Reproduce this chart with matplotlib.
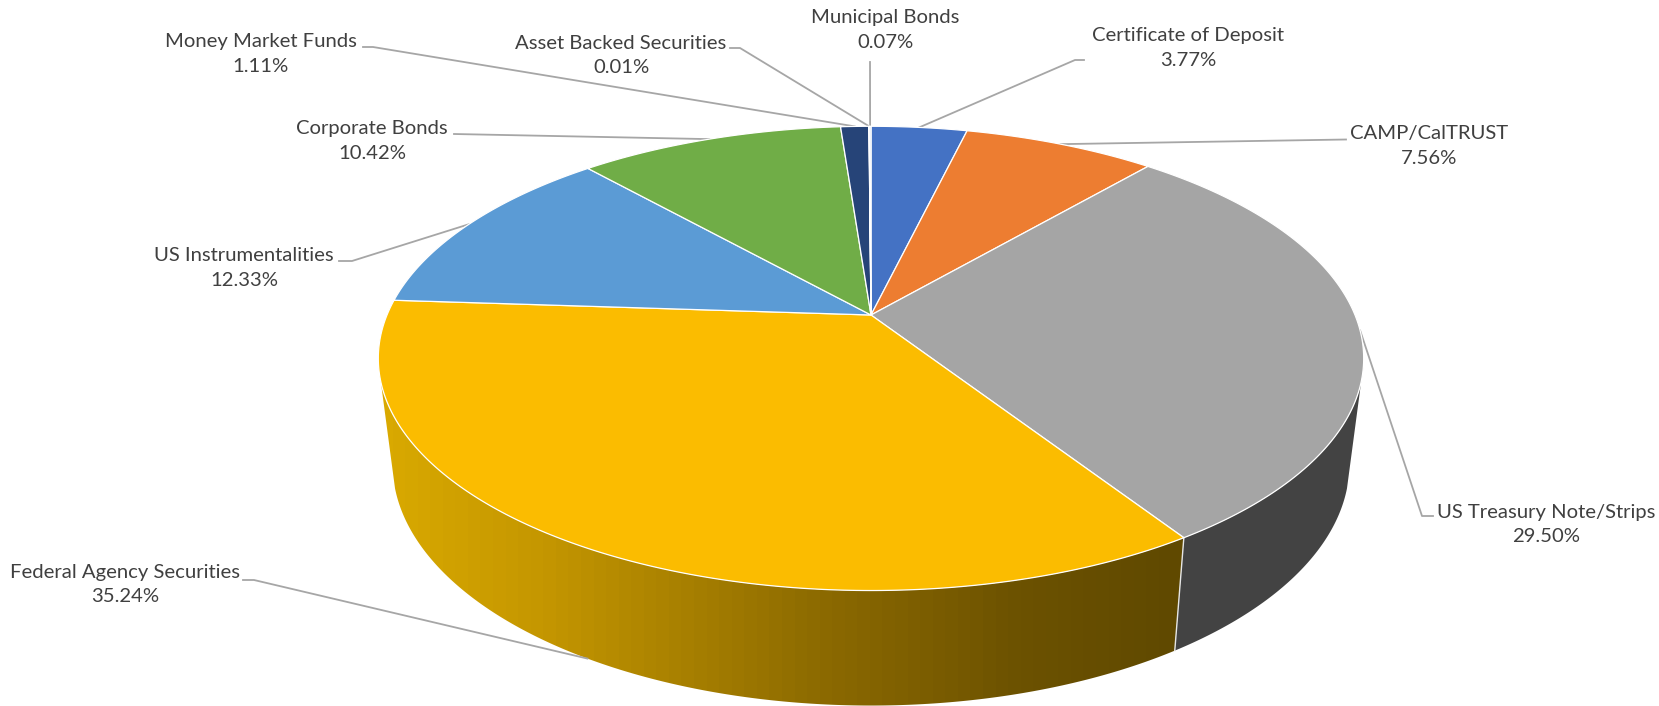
import numpy as np
import matplotlib
matplotlib.use('Agg')
import matplotlib.pyplot as plt
from matplotlib.colors import LinearSegmentedColormap
from matplotlib.patches import Polygon

plt.rcParams['font.family'] = ['Lato', 'DejaVu Sans']

# Data, clockwise from 12 o'clock
categories = ['Certificate of Deposit', 'CAMP/CalTRUST', 'US Treasury Note/Strips',
              'Federal Agency Securities', 'US Instrumentalities', 'Corporate Bonds',
              'Money Market Funds', 'Asset Backed Securities', 'Municipal Bonds']
values = [3.77, 7.56, 29.50, 35.24, 12.33, 10.42, 1.11, 0.01, 0.07]
colors = ['#4472C4', '#ED7D31', '#A5A5A5', '#FBBC00', '#5B9BD5', '#70AD47', '#264478',
          '#9E480E', '#D9E2F0']

# label centre (x, y) and the leader elbow points, in image pixels
label_pos = [(1188, 48), (1429, 146), (1546, 524.5), (125, 584.5), (244, 268),
             (372, 141), (261, 54), (621, 55.5), (885, 30)]
leader_start = [[(1084, 60), (1075, 60)], [(1346, 139.5)], [(1433, 516), (1422, 516)],
                [(243, 580), (254, 580)], [(339, 261), (352, 261)], [(454, 134)],
                [(363, 47), (373, 47)], [(730, 48), (740, 48)], [(870, 62)]]

# perspective of the pie top and how the lower rim is derived from it
cx, cy, a, b, k = 871, 315, 484, 224, 0.187
sx, sy, ty = 0.971, 1.04, 91.4
# angles where the side wall silhouette leaves the rim
side_from, side_to = np.radians(106.4), np.radians(253.6)


def rim(t):
    u, v = np.sin(t), np.cos(t)
    d = 1 + k * v
    return cx + a * u / d, cy - b * v / d


def low_rim(t):
    x, y = rim(t)
    return cx + sx * (x - cx), sy * y + ty


fig = plt.figure(figsize=(16.59, 7.06), dpi=100)
ax = fig.add_axes([0, 0, 1, 1])

edges = np.r_[0, np.cumsum(values)] / sum(values) * 2 * np.pi

# side wall, only treasury and federal slices face the viewer
grad = LinearSegmentedColormap.from_list('side', [(0, '#D9A900'), (0.2, '#C49600'),
                                                  (0.55, '#8C6A00'), (0.8, '#6C5200'),
                                                  (1, '#604900')])
for i in [2, 3]:
    t = np.linspace(max(edges[i], side_from), min(edges[i + 1], side_to), 200)
    x1, y1 = rim(t)
    x2, y2 = low_rim(t[::-1])
    poly = Polygon(np.c_[np.r_[x1, x2], np.r_[y1, y2]], closed=True, fc='#434343', ec='none', zorder=1)
    ax.add_patch(poly)
    if i == 3:
        poly.set_facecolor('none')
        im = ax.imshow(np.linspace(0, 1, 64).reshape(1, -1), cmap=grad, aspect='auto',
                       extent=[380, 1184, 706, 300], zorder=1)
        im.set_clip_path(poly)

# line between the two side walls
xa, ya = rim(edges[3])
xb, yb = low_rim(edges[3])
ax.plot([xa, xb], [ya, yb], color='#E6E6E6', lw=1, zorder=2)

# top face
for i in range(len(values)):
    t = np.linspace(edges[i], edges[i + 1], 200)
    x, y = rim(t)
    ax.add_patch(Polygon(np.c_[np.r_[cx, x], np.r_[cy, y]], closed=True, fc=colors[i],
                         ec='white', lw=0.9, joinstyle='round', zorder=3))

# leaders and labels
for i in range(len(values)):
    mid = (edges[i] + edges[i + 1]) / 2
    if categories[i] == 'Federal Agency Securities':
        end = low_rim(mid)
    else:
        end = rim(mid)
    pts = leader_start[i] + [end]
    ax.plot([p[0] for p in pts], [p[1] for p in pts], color='#A6A6A6', lw=1.3, zorder=2.5)
    ax.text(label_pos[i][0], label_pos[i][1], '%s\n%.2f%%' % (categories[i], values[i]),
            ha='center', va='center', fontsize=14.6, color='#404040', linespacing=1.55, zorder=4)

ax.set_xlim(0, 1659)
ax.set_ylim(706, 0)
ax.axis('off')
fig.savefig('out.png', dpi=100)
